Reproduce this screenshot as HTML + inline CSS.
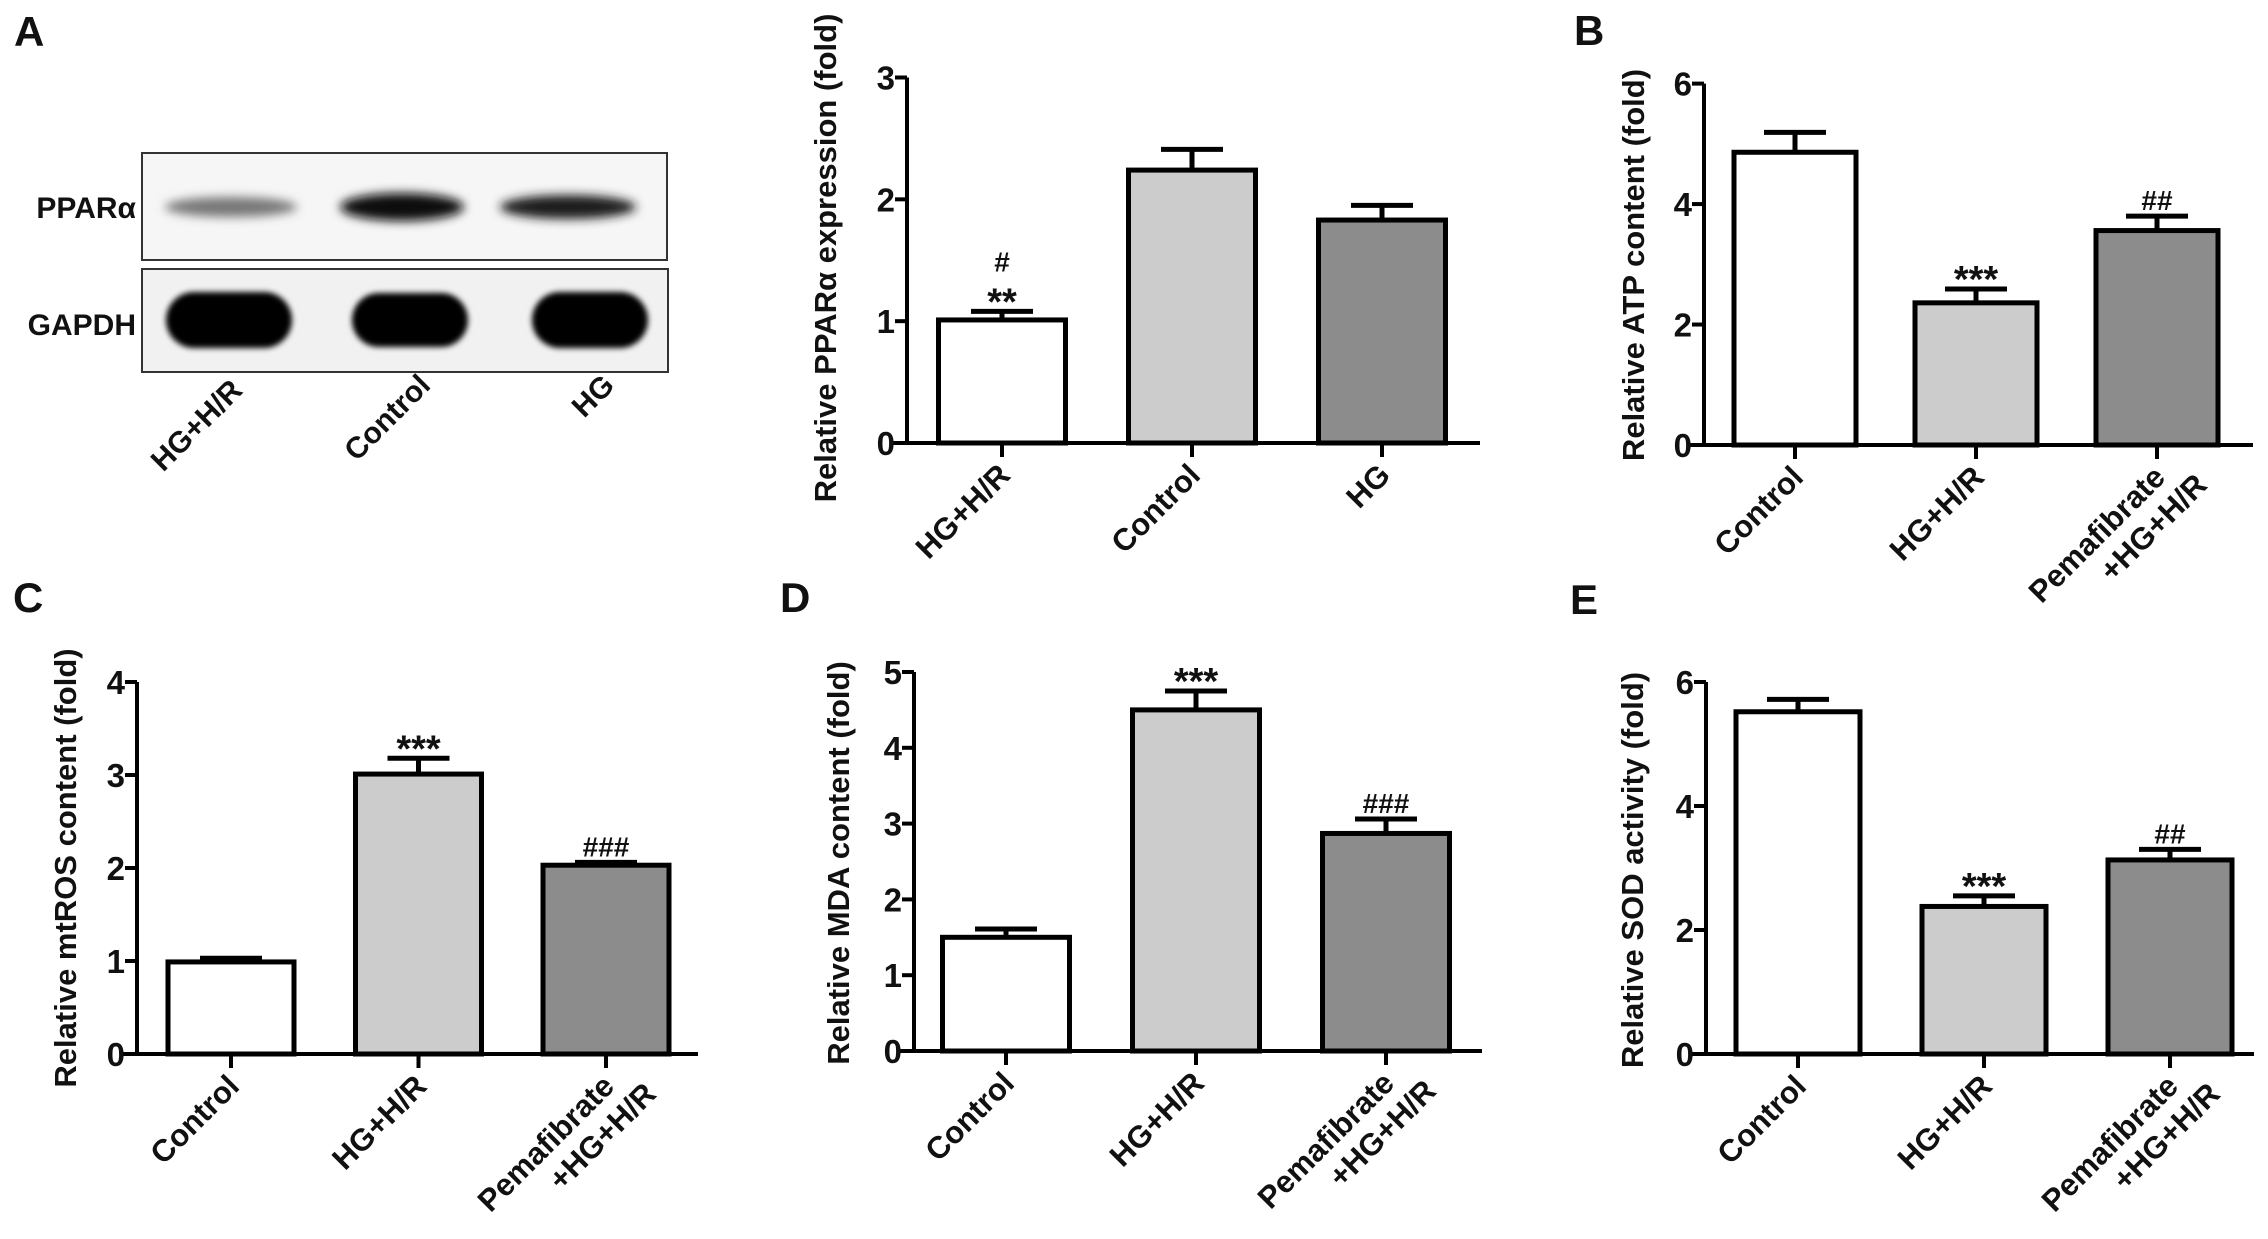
<!DOCTYPE html>
<html><head><meta charset="utf-8"><style>
html,body{margin:0;padding:0;background:#fff;}
svg{display:block;}
text{font-family:"Liberation Sans",Arial,sans-serif;font-weight:bold;fill:#111;}
</style></head><body>
<svg id="fig" width="2268" height="1239" viewBox="0 0 2268 1239" xmlns="http://www.w3.org/2000/svg">
<defs>
<filter id="blur6" x="-30%" y="-80%" width="160%" height="260%"><feGaussianBlur stdDeviation="5"/></filter>
<filter id="blur4" x="-30%" y="-80%" width="160%" height="260%"><feGaussianBlur stdDeviation="3"/></filter>
</defs>
<g>
<text x="14" y="46" font-size="42">A</text>
<text x="1574" y="45" font-size="42">B</text>
<text x="13" y="612" font-size="42">C</text>
<text x="780" y="612" font-size="42">D</text>
<text x="1570" y="614" font-size="42">E</text>
</g>
<g>
<rect x="142" y="153" width="525" height="107" fill="#f6f6f6" stroke="#333" stroke-width="2"/>
<rect x="142" y="269" width="526" height="103" fill="#f1f1f1" stroke="#333" stroke-width="2"/>
<g filter="url(#blur6)">
<ellipse cx="231" cy="207" rx="66" ry="10" fill="#777"/>
<ellipse cx="402" cy="207" rx="62" ry="14" fill="#080808"/>
<ellipse cx="568" cy="207" rx="68" ry="12" fill="#1a1a1a"/>
</g>
<g filter="url(#blur4)">
<rect x="166" y="292" width="126" height="56" rx="28" fill="#000"/>
<rect x="352" y="293" width="116" height="54" rx="27" fill="#000"/>
<rect x="532" y="292" width="116" height="56" rx="28" fill="#000"/>
</g>
<text x="136" y="218" font-size="30" text-anchor="end">PPARα</text>
<text x="136" y="335" font-size="30" text-anchor="end">GAPDH</text>
<text transform="translate(244,392) rotate(-45)" font-size="30" text-anchor="end">HG+H/R</text>
<text transform="translate(432,387) rotate(-45)" font-size="30" text-anchor="end">Control</text>
<text transform="translate(616,387) rotate(-45)" font-size="30" text-anchor="end">HG</text>
</g>
</svg>
<script>
// Panel A
const catsA = ["HG+H/R", "Control", "HG"];
const valsA = [1.01, 2.24, 1.83];
const errsA = [0.07, 0.17, 0.12];
const marksA = ["**", "", ""];
const hashA = ["#", "", ""];
const ticksA = [0, 1, 2, 3];
// Panel B
const catsB = ["Control", "HG+H/R", "Pemafibrate|+HG+H/R"];
const valsB = [4.86, 2.36, 3.56];
const errsB = [0.33, 0.23, 0.24];
const marksB = ["", "***", "##"];
const ticksB = [0, 2, 4, 6];
// Panel C
const catsC = ["Control", "HG+H/R", "Pemafibrate|+HG+H/R"];
const valsC = [0.99, 3.01, 2.03];
const errsC = [0.04, 0.17, 0.03];
const marksC = ["", "***", "###"];
const ticksC = [0, 1, 2, 3, 4];
// Panel D
const catsD = ["Control", "HG+H/R", "Pemafibrate|+HG+H/R"];
const valsD = [1.50, 4.50, 2.87];
const errsD = [0.11, 0.25, 0.19];
const marksD = ["", "***", "###"];
const ticksD = [0, 1, 2, 3, 4, 5];
// Panel E
const catsE = ["Control", "HG+H/R", "Pemafibrate|+HG+H/R"];
const valsE = [5.52, 2.38, 3.13];
const errsE = [0.20, 0.17, 0.17];
const marksE = ["", "***", "##"];
const ticksE = [0, 2, 4, 6];

const fills = ["#ffffff", "#cccccc", "#8c8c8c"];
const fillsA = ["#ffffff", "#cccccc", "#8c8c8c"];
const NS = "http://www.w3.org/2000/svg";
const svg = document.getElementById("fig");

function mk(tag, attrs, parent) {
  const e = document.createElementNS(NS, tag);
  for (const k in attrs) e.setAttribute(k, attrs[k]);
  parent.appendChild(e);
  return e;
}

function chart(id, g, cats, vals, errs, marks, hashes, ticks, title, fillArr) {
  const grp = document.createElementNS(NS, "g");
  
  
  svg.appendChild(grp);
  const ymax = ticks[ticks.length - 1];
  const yScale = v => g.y0 - (v / ymax) * (g.y0 - g.yTop);
  const xScale = i => g.c0 + i * g.step;
  cats.forEach((c, i) => {
    const cx = xScale(i), top = yScale(vals[i]), et = yScale(vals[i] + errs[i]);
    const ln = mk("line", {x1: cx, x2: cx, y1: top, y2: et, stroke: "#000", "stroke-width": 5}, grp);
    
    
    const cap = mk("line", {x1: cx - 31, x2: cx + 31, y1: et, y2: et, stroke: "#000", "stroke-width": 5}, grp);
    
    
    const r = mk("rect", {x: cx - g.bw / 2, y: top, width: g.bw, height: g.y0 - top, fill: fillArr[i], stroke: "#000", "stroke-width": 5}, grp);
    
    
    let ty = et;
    if (marks[i]) {
      const isHash = marks[i].startsWith("#");
      const t = mk("text", {x: cx, y: isHash ? ty - 6 : ty + 3, "font-size": isHash ? 28 : 38, "text-anchor": "middle", "font-weight": isHash ? "normal" : "bold"}, grp);
      t.textContent = marks[i];
      
      
      ty -= 36;
    }
    if (hashes && hashes[i]) {
      const t = mk("text", {x: cx, y: ty - 4, "font-size": 28, "text-anchor": "middle", "font-weight": "normal"}, grp);
      t.textContent = hashes[i];
      
      
    }
    const tk = mk("line", {x1: cx, x2: cx, y1: g.y0, y2: g.y0 + 14, stroke: "#000", "stroke-width": 4}, grp);
    
    
    const parts = c.split("|");
    const lt = mk("text", {transform: "translate(" + (cx + 10) + "," + (g.y0 + 34) + ") rotate(-45)", "font-size": 31, "text-anchor": "end"}, grp);
    
    
    if (parts.length === 1) { lt.textContent = parts[0]; }
    else {
      const s1 = mk("tspan", {x: 0, dy: 0}, lt); s1.textContent = parts[0];
      const s2 = mk("tspan", {x: 24, dy: 35}, lt); s2.textContent = parts[1];
    }
  });
  const ya = mk("line", {x1: g.ax, x2: g.ax, y1: g.yTop, y2: g.y0 + 2, stroke: "#000", "stroke-width": 4}, grp);
  
  
  const xa = mk("line", {x1: g.ax - 14, x2: g.xEnd, y1: g.y0, y2: g.y0, stroke: "#000", "stroke-width": 4}, grp);
  
  
  ticks.forEach(v => {
    const y = yScale(v);
    const tl = mk("line", {x1: g.ax - 12, x2: g.ax, y1: y, y2: y, stroke: "#000", "stroke-width": 4}, grp);
    
    
    const tt = mk("text", {x: g.ax - 12, y: y + 12, "font-size": 33, "text-anchor": "end"}, grp);
    tt.textContent = String(v);
    
    
  });
  const yt = mk("text", {transform: "translate(" + g.tx + "," + g.tyc + ") rotate(-90)", "font-size": 31, "text-anchor": "middle", "xml:space": "preserve"}, grp);
  yt.textContent = title;
  
  
}

chart("chart-a-ppar", {ax: 907, y0: 443, yTop: 77.5, c0: 1002, step: 190, bw: 127, xEnd: 1480, tx: 836, tyc: 258},
  catsA, valsA, errsA, marksA, hashA, ticksA, "Relative PPARα expression (fold)", fillsA);
chart("chart-b-atp", {ax: 1704, y0: 445, yTop: 83.6, c0: 1795, step: 181, bw: 122, xEnd: 2253, tx: 1644, tyc: 265},
  catsB, valsB, errsB, marksB, null, ticksB, "Relative ATP  content  (fold)", fills);
chart("chart-c-mtros", {ax: 137, y0: 1054, yTop: 682, c0: 231, step: 187.5, bw: 126, xEnd: 698, tx: 76, tyc: 868},
  catsC, valsC, errsC, marksC, null, ticksC, "Relative mtROS content  (fold)", fills);
chart("chart-d-mda", {ax: 914, y0: 1051, yTop: 672, c0: 1006, step: 190, bw: 127, xEnd: 1482, tx: 849, tyc: 863},
  catsD, valsD, errsD, marksD, null, ticksD, "Relative MDA content  (fold)", fills);
chart("chart-e-sod", {ax: 1706, y0: 1054, yTop: 682, c0: 1798, step: 186, bw: 124, xEnd: 2254, tx: 1643, tyc: 870},
  catsE, valsE, errsE, marksE, null, ticksE, "Relative SOD activity (fold)", fills);
</script>
</body></html>
